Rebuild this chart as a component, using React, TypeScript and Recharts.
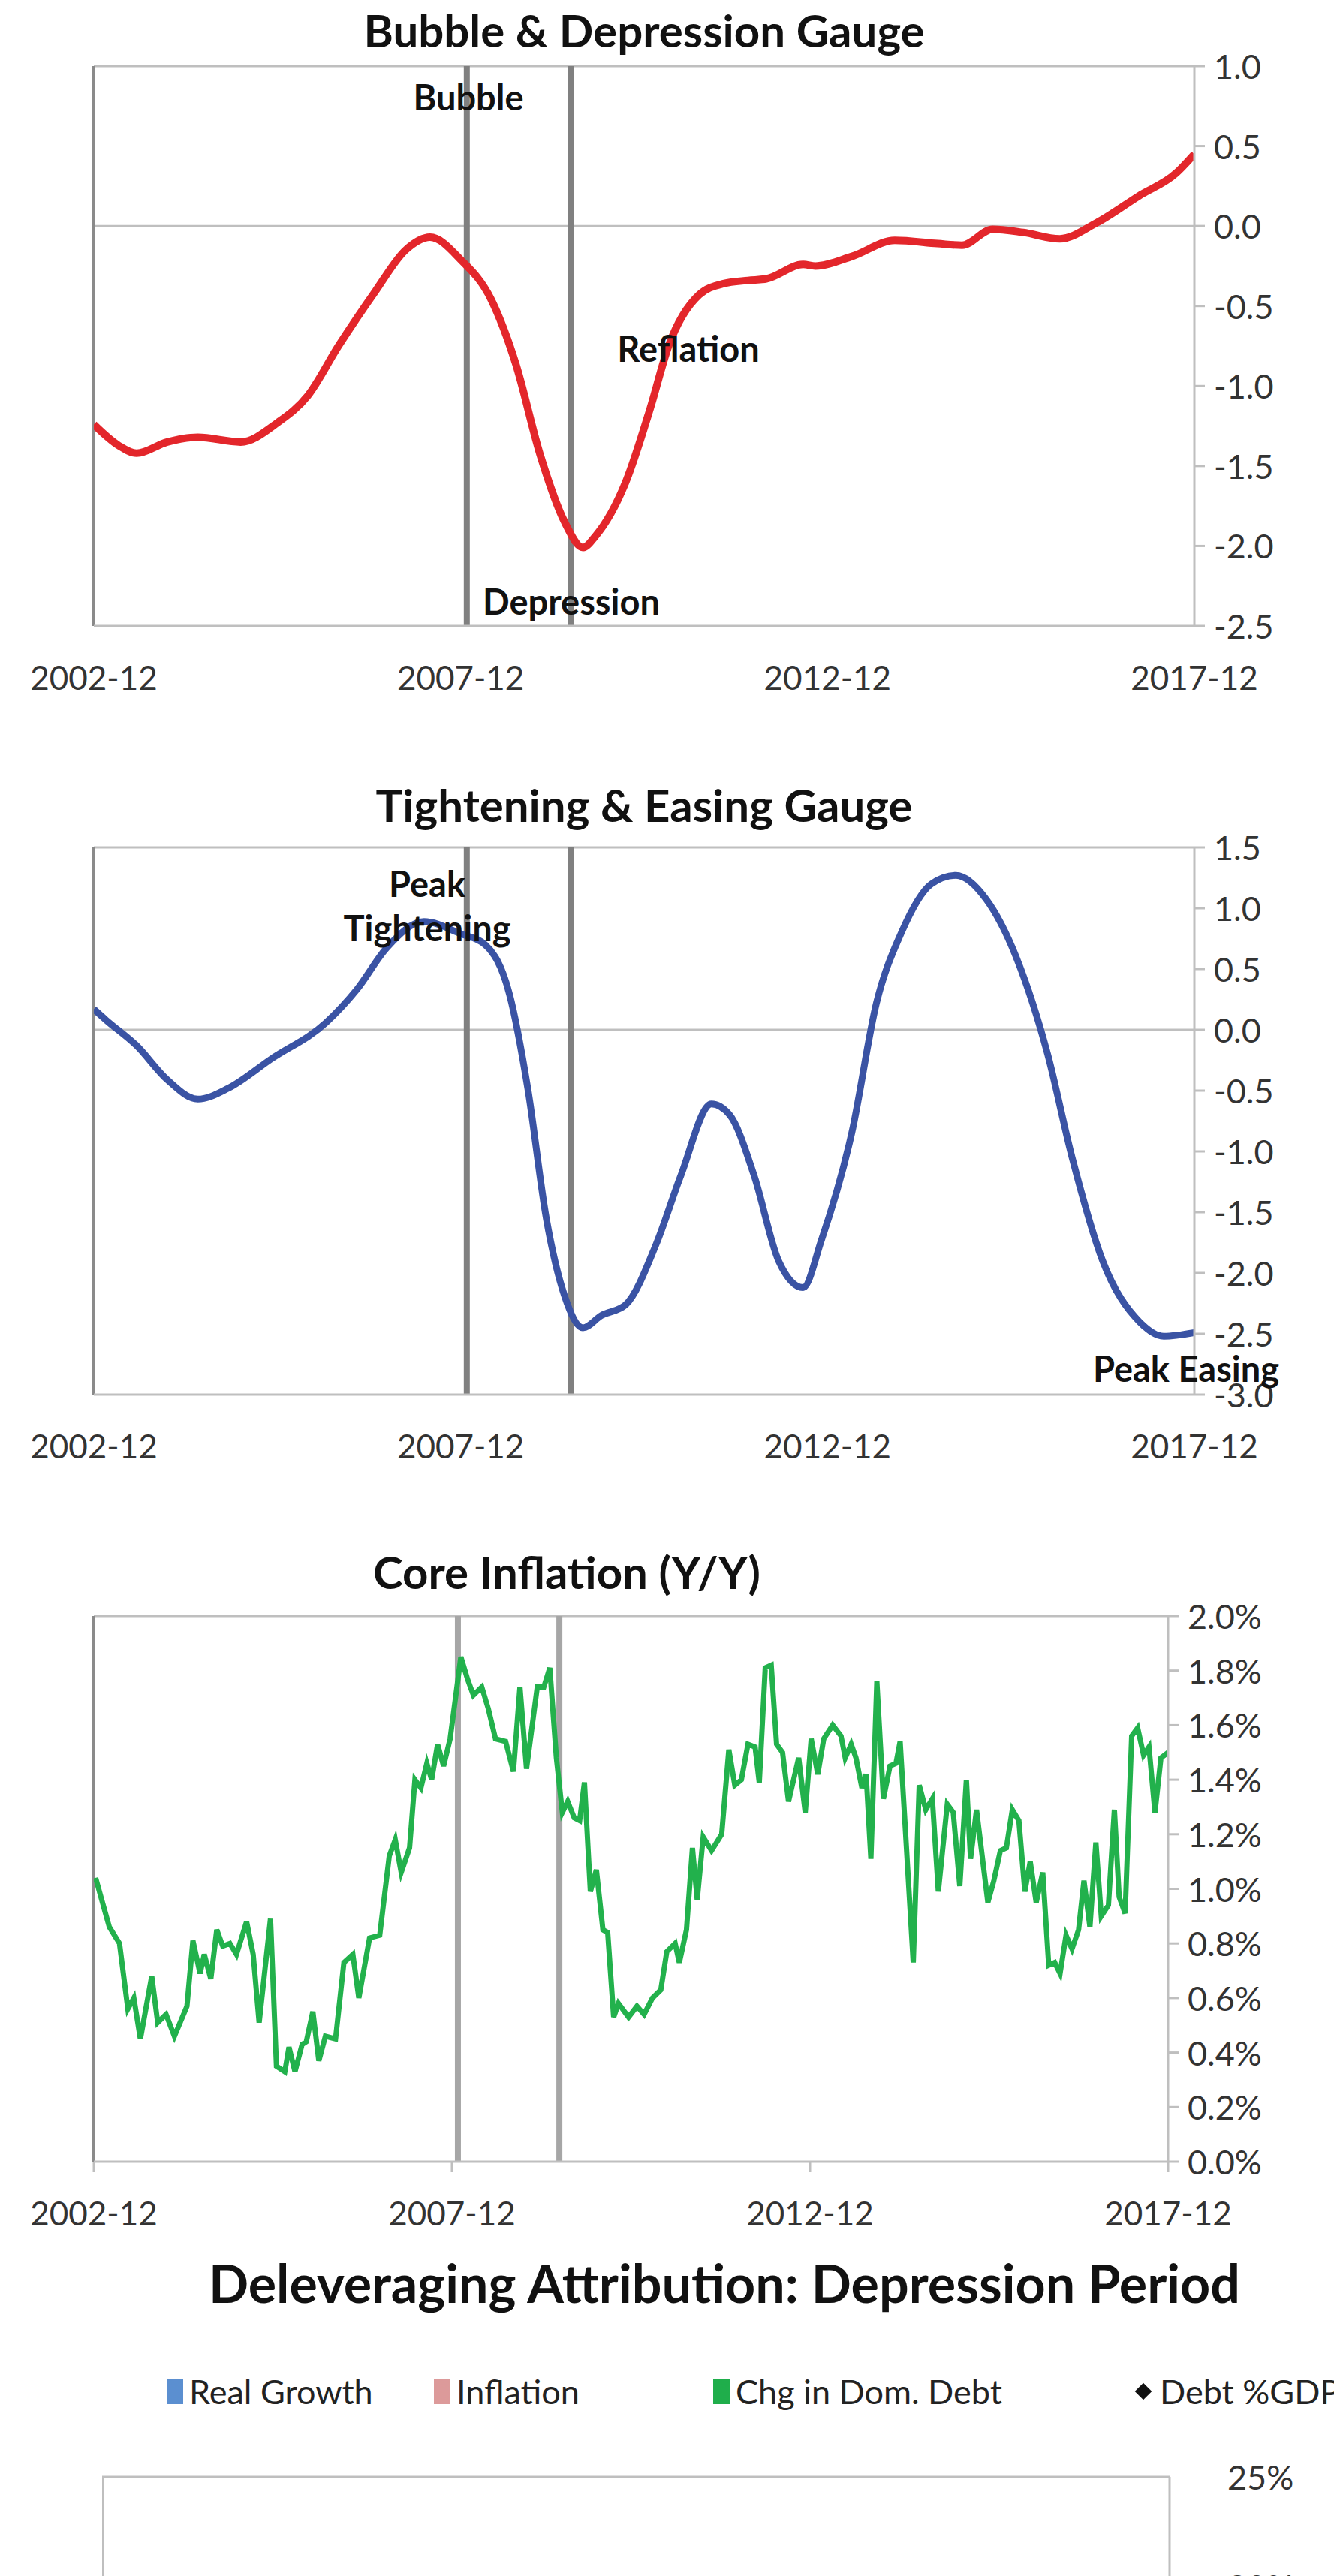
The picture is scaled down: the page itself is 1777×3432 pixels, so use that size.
import React from "react";
import { LineChart, Line, XAxis, YAxis, ReferenceLine, ComposedChart, Bar } from "recharts";

// month index 0 = 2002-12
const xTicks = [0, 60, 120, 180];
const markerMonths = [61, 78];

const bubblePoints: [number, number][] = [
  [0, -1.24], [4, -1.37], [7, -1.42], [12, -1.35], [17, -1.32], [24, -1.35], [30, -1.23], [35, -1.06],
  [40, -0.75], [46, -0.41], [51, -0.15], [55, -0.07], [60, -0.21], [65, -0.46], [69, -0.86], [73, -1.43],
  [77, -1.85], [80, -2.01], [82, -1.94], [87, -1.6], [91, -1.14], [94, -0.75], [99, -0.43], [103, -0.36],
  [107, -0.34], [110, -0.33], [116, -0.24], [118, -0.25], [124, -0.19], [131, -0.09], [138, -0.11],
  [142, -0.12], [147, -0.02], [152, -0.04], [158, -0.08], [164, 0.02], [171, 0.19], [177, 0.33], [180, 0.45],
];

const easingPoints: [number, number][] = [
  [0, 0.17], [2, 0.08], [7, -0.13], [12, -0.41], [17, -0.57], [22, -0.48], [29, -0.24], [38, 0.06],
  [43, 0.33], [48, 0.68], [54, 0.89], [60, 0.79], [64, 0.7], [68, 0.29], [71, -0.49], [74, -1.55],
  [77, -2.19], [80, -2.45], [83, -2.35], [87, -2.26], [92, -1.76], [96, -1.2], [101, -0.61], [104, -0.7],
  [108, -1.2], [112, -1.9], [116, -2.12], [119, -1.73], [124, -0.84], [128, 0.22], [132, 0.79], [137, 1.2],
  [141, 1.27], [146, 1.07], [151, 0.58], [156, -0.2], [160, -1.05], [165, -1.9], [171, -2.4], [175, -2.52], [180, -2.49],
];

const inflationPoints: [number, number][] = [
  [0.3, 1.04], [1.7, 0.93], [2.6, 0.86], [4.3, 0.8], [5.7, 0.56], [6.7, 0.6], [7.8, 0.45], [9.7, 0.68],
  [10.7, 0.51], [12.1, 0.54], [13.5, 0.46], [15.6, 0.57], [16.6, 0.81], [17.8, 0.69], [18.5, 0.76], [19.6, 0.67],
  [20.6, 0.85], [21.6, 0.79], [22.8, 0.8], [23.9, 0.76], [25.6, 0.88], [26.7, 0.76], [27.7, 0.51], [29.6, 0.89],
  [30.6, 0.35], [32.0, 0.33], [32.7, 0.42], [33.7, 0.33], [34.9, 0.43], [35.6, 0.44], [36.7, 0.55], [37.7, 0.37],
  [38.8, 0.46], [40.5, 0.45], [41.9, 0.73], [43.4, 0.76], [44.4, 0.6], [46.2, 0.82], [47.9, 0.83], [49.5, 1.12],
  [50.5, 1.18], [51.5, 1.06], [52.9, 1.15], [53.8, 1.4], [54.8, 1.37], [55.8, 1.46], [56.6, 1.4], [57.6, 1.53],
  [58.6, 1.45], [59.7, 1.55], [61.5, 1.85], [62.6, 1.77], [63.6, 1.71], [65.0, 1.74], [66.1, 1.66], [67.3, 1.55],
  [69.0, 1.54], [70.3, 1.43], [71.4, 1.74], [72.5, 1.44], [74.3, 1.74], [75.4, 1.74], [76.4, 1.81], [77.5, 1.48],
  [78.5, 1.28], [79.4, 1.32], [80.5, 1.26], [81.4, 1.25], [82.2, 1.39], [83.2, 0.99], [84.2, 1.07], [85.3, 0.85],
  [86.1, 0.84], [87.1, 0.53], [87.9, 0.58], [89.6, 0.53], [91.0, 0.57], [92.2, 0.54], [93.6, 0.6], [95.0, 0.63],
  [96.0, 0.77], [97.4, 0.8], [98.1, 0.73], [99.3, 0.85], [100.3, 1.15], [101.1, 0.96], [102.1, 1.19], [103.5, 1.14],
  [105.2, 1.2], [106.4, 1.51], [107.4, 1.38], [108.5, 1.4], [109.6, 1.53], [110.8, 1.52], [111.5, 1.39], [112.5, 1.81],
  [113.5, 1.82], [114.4, 1.53], [115.4, 1.5], [116.4, 1.32], [118.1, 1.48], [119.2, 1.28], [120.2, 1.55], [121.3, 1.42],
  [122.3, 1.55], [123.8, 1.6], [125.2, 1.56], [125.9, 1.48], [126.9, 1.53], [127.7, 1.48], [128.7, 1.37], [129.4, 1.42],
  [130.2, 1.11], [131.2, 1.76], [132.3, 1.33], [133.4, 1.45], [134.4, 1.46], [135.1, 1.54], [137.3, 0.73], [138.3, 1.38],
  [139.4, 1.29], [140.5, 1.33], [141.5, 0.99], [143.0, 1.31], [144.0, 1.28], [145.1, 1.01], [146.2, 1.4], [146.9, 1.11],
  [147.9, 1.29], [149.8, 0.95], [150.8, 1.03], [151.9, 1.14], [152.9, 1.15], [153.9, 1.29], [155.0, 1.25], [156.0, 0.99],
  [156.9, 1.1], [157.9, 0.95], [159.0, 1.06], [160.0, 0.72], [161.0, 0.73], [161.9, 0.69], [162.9, 0.83], [163.9, 0.78],
  [165.0, 0.85], [165.9, 1.03], [166.9, 0.86], [167.9, 1.17], [168.8, 0.9], [170.0, 0.94], [171.0, 1.29], [171.8, 0.97],
  [172.8, 0.91], [173.9, 1.56], [174.9, 1.59], [175.9, 1.49], [176.8, 1.52], [177.8, 1.28], [178.8, 1.48], [180.0, 1.5],
];

const bubbleTicks = [-2.5, -2.0, -1.5, -1.0, -0.5, 0.0, 0.5, 1.0];
const easingTicks = [-3.0, -2.5, -2.0, -1.5, -1.0, -0.5, 0.0, 0.5, 1.0, 1.5];
const inflationTicks = [0, 0.2, 0.4, 0.6, 0.8, 1.0, 1.2, 1.4, 1.6, 1.8, 2.0];
const attributionTicks = [-25, -20, -15, -10, -5, 0, 5, 10, 15, 20, 25];
const legendItems = [
  { label: "Real Growth", color: "#5b8fd0", x: 222 },
  { label: "Inflation", color: "#dc9a9a", x: 578 },
  { label: "Chg in Dom. Debt", color: "#1fae4b", x: 950 },
];

const FONT = "Lato, 'DejaVu Sans', sans-serif";
const W = 1777;
const toPoints = (p: [number, number][]) => p.map(([m, v]) => ({ m, v }));
const monthLabel = (m: number) => `${2002 + m / 12}-12`;

type GaugeProps = {
  points: [number, number][];
  color: string;
  strokeW: number;
  ticks: number[];
  fmt: (v: number) => string;
  plotLeft: number;
  plotRight: number;
  plotTop: number;
  plotBottom: number;
  markerColor: string;
  markerW: number;
  zeroLine: boolean;
  xTickMarks: boolean;
  smooth: boolean;
};

function Gauge(p: GaugeProps) {
  const padTop = 30;
  const below = 120;
  const yW = 150;
  const xH = 110;
  const h = p.plotBottom - p.plotTop + padTop + below;
  const lo = p.ticks[0];
  const hi = p.ticks[p.ticks.length - 1];
  const plotH = p.plotBottom - p.plotTop;
  const XTick = (props: any) => (
    <text x={props.x} y={padTop + plotH + 68} textAnchor="middle" dominantBaseline="central"
      fontSize={44} fill="#333" fontFamily={FONT}>{monthLabel(props.payload.value)}</text>
  );
  const YTick = (props: any) => (
    <text x={p.plotRight + 26} y={props.y} textAnchor="start" dominantBaseline="central"
      fontSize={45} fill="#333" fontFamily={FONT}>{p.fmt(props.payload.value)}</text>
  );
  return (
    <div style={{ position: "absolute", left: 0, top: p.plotTop - padTop }}>
      <LineChart width={W} height={h} data={toPoints(p.points)}
        margin={{ top: padTop, left: p.plotLeft, right: W - p.plotRight - yW, bottom: below - xH }}>
        <XAxis dataKey="m" type="number" domain={[0, 180]} ticks={xTicks} height={xH}
          axisLine={{ stroke: "#bfbfbf", strokeWidth: 3 }}
          tickLine={p.xTickMarks ? { stroke: "#bfbfbf", strokeWidth: 3 } : false} tickSize={14}
          tick={<XTick />} interval={0} allowDataOverflow />
        <YAxis orientation="right" type="number" domain={[lo, hi]} ticks={p.ticks} width={yW}
          axisLine={{ stroke: "#bfbfbf", strokeWidth: 3 }} tickLine={{ stroke: "#bfbfbf", strokeWidth: 3 }}
          tickSize={14} tick={<YTick />} interval={0} allowDataOverflow />
        <ReferenceLine y={hi} stroke="#bfbfbf" strokeWidth={3} />
        {p.zeroLine && <ReferenceLine y={0} stroke="#bfbfbf" strokeWidth={3} />}
        <ReferenceLine x={0} stroke="#8a8a8a" strokeWidth={4} />
        {markerMonths.map((m) => (
          <ReferenceLine key={m} x={m} stroke={p.markerColor} strokeWidth={p.markerW} />
        ))}
        <Line dataKey="v" type={p.smooth ? "monotone" : "linear"} stroke={p.color} strokeWidth={p.strokeW}
          dot={false} isAnimationActive={false} />
      </LineChart>
    </div>
  );
}

const label = (x: number, y: number, size: number, bold = true): React.CSSProperties => ({
  position: "absolute", left: x, top: y, transform: "translate(-50%, -50%)", fontSize: size,
  fontWeight: bold ? 700 : 400, fontFamily: FONT, whiteSpace: "nowrap", color: "#111", lineHeight: 1,
});

function Attribution() {
  const top = 3300;
  const padTop = 30;
  const YTick = (props: any) => (
    <text x={1635} y={props.y} textAnchor="start" dominantBaseline="central" fontSize={45} fill="#333"
      fontFamily={FONT}>{`${props.payload.value}%`}</text>
  );
  return (
    <div style={{ position: "absolute", left: 0, top: top - padTop }}>
      <ComposedChart width={W} height={1500} data={[{ c: "Depression", v: null }]}
        margin={{ top: padTop, left: 136, right: 29, bottom: 10 }}>
        <XAxis dataKey="c" hide />
        <YAxis orientation="right" type="number" domain={[-25, 25]} ticks={attributionTicks} width={190}
          axisLine={{ stroke: "#bfbfbf", strokeWidth: 3 }} tickLine={false} tick={<YTick />} interval={0}
          allowDataOverflow />
        <ReferenceLine y={25} stroke="#bfbfbf" strokeWidth={3} ifOverflow="extendDomain" />
        <Bar dataKey="v" isAnimationActive={false} fill="#5b8fd0" />
      </ComposedChart>
      <div style={{ position: "absolute", left: 136, top: padTop, width: 0, height: 1400, borderLeft: "3px solid #bfbfbf" }} />
    </div>
  );
}

export default function App() {
  return (
    <div style={{ position: "absolute", left: 0, top: 0, width: W, height: 3432, overflow: "hidden", background: "#fff" }}>
      <Gauge points={bubblePoints} color="#e3262b" strokeW={10} ticks={bubbleTicks} fmt={(v) => v.toFixed(1)}
        plotLeft={125} plotRight={1591} plotTop={88} plotBottom={834} markerColor="#808080" markerW={8}
        zeroLine xTickMarks={false} smooth />
      <Gauge points={easingPoints} color="#3a53a4" strokeW={9} ticks={easingTicks} fmt={(v) => v.toFixed(1)}
        plotLeft={125} plotRight={1591} plotTop={1129} plotBottom={1858} markerColor="#808080" markerW={8}
        zeroLine xTickMarks={false} smooth />
      <Gauge points={inflationPoints} color="#22b14c" strokeW={7} ticks={inflationTicks} fmt={(v) => `${v.toFixed(1)}%`}
        plotLeft={125} plotRight={1556} plotTop={2153} plotBottom={2880} markerColor="#a6a6a6" markerW={8}
        zeroLine={false} xTickMarks smooth={false} />
      <Attribution />

      <div style={label(858, 40, 60)}>Bubble &amp; Depression Gauge</div>
      <div style={label(624, 129, 47)}>Bubble</div>
      <div style={label(917, 464, 47)}>Reflation</div>
      <div style={label(761, 801, 47)}>Depression</div>

      <div style={label(858, 1072, 60)}>Tightening &amp; Easing Gauge</div>
      <div style={label(569, 1177, 47)}>Peak</div>
      <div style={label(569, 1236, 47)}>Tightening</div>
      <div style={label(1580, 1823, 47)}>Peak Easing</div>

      <div style={label(755, 2094, 60)}>Core Inflation (Y/Y)</div>

      <div style={label(965, 3041, 70)}>Deleveraging Attribution: Depression Period</div>
      {legendItems.map((it) => (
        <div key={it.label} style={{ position: "absolute", left: it.x, top: 3186, transform: "translateY(-50%)",
          display: "flex", alignItems: "center", fontFamily: FONT, fontSize: 45, color: "#222", whiteSpace: "nowrap" }}>
          <span style={{ display: "inline-block", width: 22, height: 34, background: it.color, marginRight: 8 }} />
          {it.label}
        </div>
      ))}
      <div style={{ position: "absolute", left: 1515, top: 3186, transform: "translateY(-50%)", display: "flex",
        alignItems: "center", fontFamily: FONT, fontSize: 45, color: "#222", whiteSpace: "nowrap" }}>
        <span style={{ display: "inline-block", width: 16, height: 16, background: "#111", transform: "rotate(45deg)", marginRight: 14 }} />
        Debt %GDP
      </div>
    </div>
  );
}
